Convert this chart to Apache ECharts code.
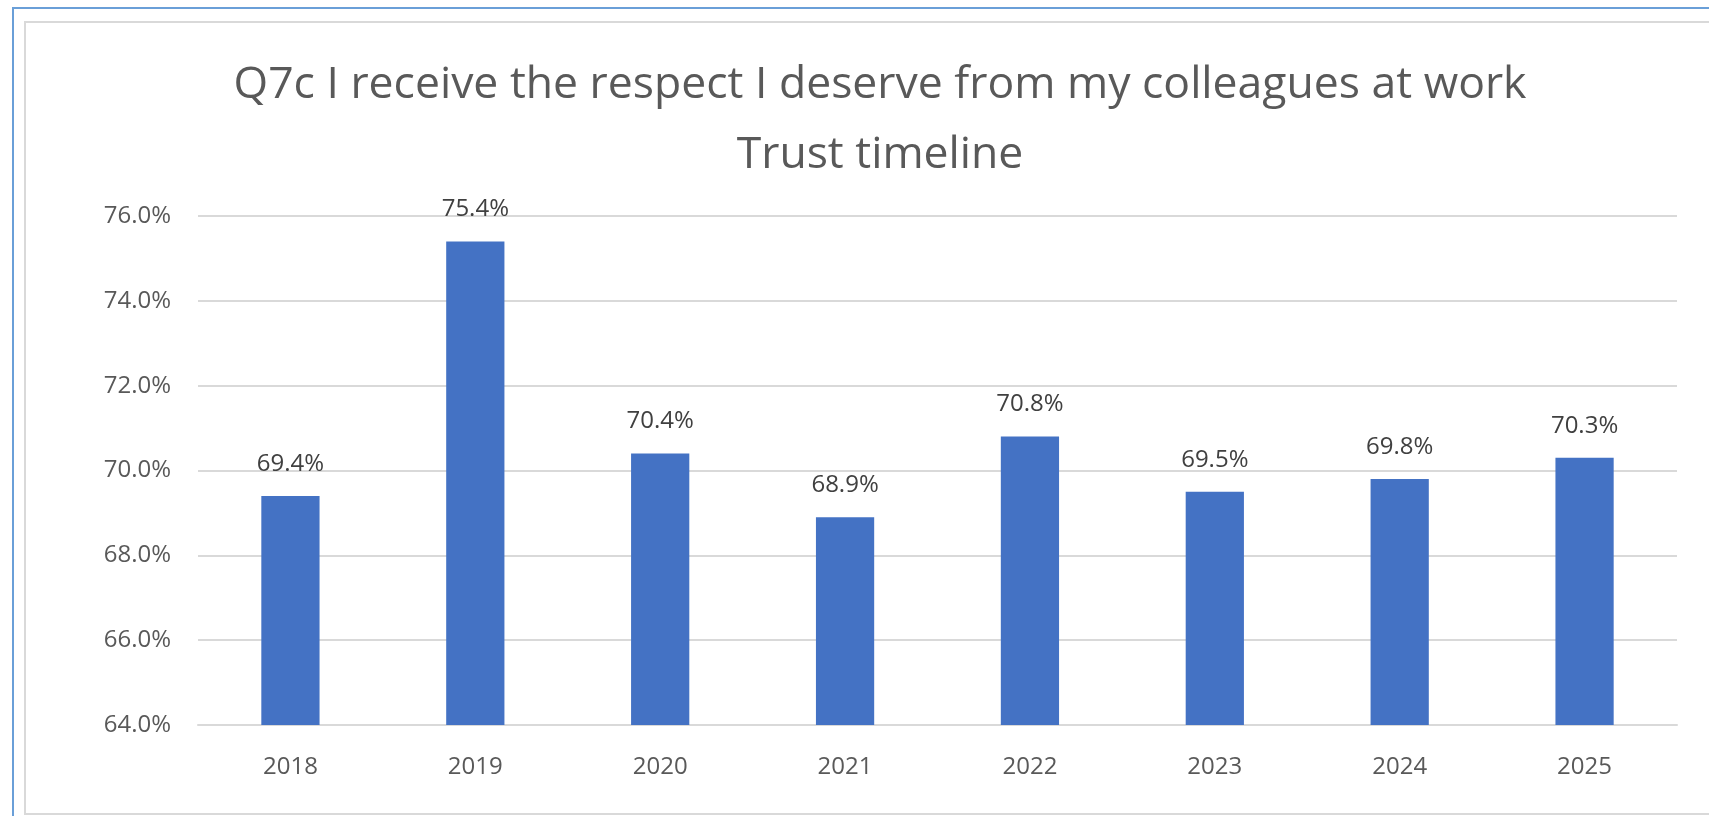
<!DOCTYPE html>
<html>
<head>
<meta charset="utf-8">
<title>Q7c Trust timeline</title>
<script src="https://cdn.jsdelivr.net/npm/echarts@6/dist/echarts.min.js"></script>
<style>
  html, body { margin: 0; padding: 0; background: #ffffff; overflow: hidden; }
  #chart { width: 1709px; height: 816px; }
</style>
</head>
<body>
<div id="chart"></div>
<script>
// Survey years and share of respondents agreeing (%)
const years = ['2018', '2019', '2020', '2021', '2022', '2023', '2024', '2025'];
const agreePct = [69.4, 75.4, 70.4, 68.9, 70.8, 69.5, 69.8, 70.3];

// Value axis range
const axisMin = 64;
const axisMax = 76;
const axisStep = 2;

const titleLines = [
  'Q7c I receive the respect I deserve from my colleagues at work',
  'Trust timeline'
];

const FONT = '"Open Sans", "Noto Sans", sans-serif';

const chart = echarts.init(document.getElementById('chart'), null, { renderer: 'canvas' });

chart.setOption({
  backgroundColor: '#ffffff',
  animation: false,
  textStyle: { fontFamily: FONT },
  graphic: [
    {
      type: 'rect',
      silent: true,
      shape: { x: 13, y: 8, width: 1740, height: 840 },
      style: { fill: 'none', stroke: '#6a9fd8', lineWidth: 2 }
    },
    {
      type: 'rect',
      silent: true,
      shape: { x: 25, y: 22, width: 1720, height: 792 },
      style: { fill: 'none', stroke: '#d9d9d9', lineWidth: 2 }
    }
  ],
  title: {
    text: titleLines.join('\n'),
    left: 880,
    top: 50,
    padding: 0,
    textAlign: 'center',
    textStyle: {
      fontFamily: FONT,
      fontSize: 44.5,
      fontWeight: 'normal',
      color: '#595959',
      lineHeight: 70
    }
  },
  grid: {
    left: 198,
    right: 32,
    top: 216,
    bottom: 91,
    containLabel: false,
    outerBoundsMode: 'none'
  },
  xAxis: {
    type: 'category',
    data: years,
    axisLine: { show: true, lineStyle: { color: '#d9d9d9', width: 2 } },
    axisTick: { show: false },
    axisLabel: {
      margin: 30,
      fontFamily: FONT,
      fontSize: 24,
      color: '#595959'
    }
  },
  yAxis: {
    type: 'value',
    min: axisMin,
    max: axisMax,
    interval: axisStep,
    axisLine: { show: false },
    axisTick: { show: false },
    splitLine: { lineStyle: { color: '#d9d9d9', width: 2 } },
    axisLabel: {
      margin: 27,
      fontFamily: FONT,
      fontSize: 24,
      color: '#595959',
      formatter: v => v.toFixed(1) + '%'
    }
  },
  series: [
    {
      type: 'bar',
      data: agreePct,
      barWidth: '31.5%',
      itemStyle: { color: '#4472c4' },
      label: {
        show: true,
        position: 'top',
        distance: 20,
        fontFamily: FONT,
        fontSize: 24,
        color: '#404040',
        formatter: p => p.value.toFixed(1) + '%'
      }
    }
  ]
});
</script>
</body>
</html>
